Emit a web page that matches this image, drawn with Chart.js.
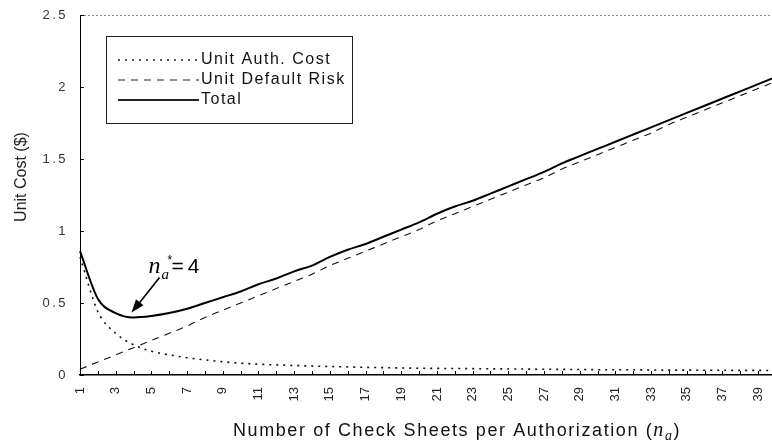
<!DOCTYPE html>
<html>
<head>
<meta charset="utf-8">
<script src="https://cdn.jsdelivr.net/npm/chart.js@4.4.1/dist/chart.umd.min.js"></script>
<style>
html, body { margin: 0; padding: 0; background: #fff; overflow: hidden; }
#wrap { width: 778px; height: 445px; }
</style>
</head>
<body>
<div id="wrap"><canvas id="costChart" width="778" height="445"></canvas></div>
<script>
// Number of check sheets per authorization (x categories)
const checkSheets = [1, 2, 3, 4, 5, 6, 7, 8, 9, 10, 11, 12, 13, 14, 15, 16, 17, 18, 19, 20,
                     21, 22, 23, 24, 25, 26, 27, 28, 29, 30, 31, 32, 33, 34, 35, 36, 37, 38, 39, 40];

// Unit costs ($)
const unitAuthCost = [0.82, 0.44, 0.29, 0.21, 0.165, 0.14, 0.12, 0.105, 0.092, 0.082,
                      0.075, 0.07, 0.066, 0.062, 0.059, 0.056, 0.053, 0.051, 0.049, 0.047,
                      0.046, 0.045, 0.044, 0.043, 0.042, 0.041, 0.04, 0.039, 0.038, 0.037,
                      0.036, 0.036, 0.035, 0.034, 0.034, 0.033, 0.033, 0.032, 0.032, 0.031];
const unitDefaultRisk = [0.04, 0.09, 0.14, 0.19, 0.24, 0.29, 0.34, 0.40, 0.45, 0.50,
                         0.55, 0.60, 0.65, 0.70, 0.76, 0.81, 0.86, 0.91, 0.96, 1.01,
                         1.07, 1.12, 1.17, 1.22, 1.27, 1.32, 1.37, 1.43, 1.48, 1.53,
                         1.58, 1.63, 1.68, 1.74, 1.79, 1.84, 1.89, 1.94, 1.99, 2.04];
const totalCost = [0.86, 0.53, 0.43, 0.40, 0.41, 0.43, 0.46, 0.50, 0.54, 0.58,
                   0.63, 0.67, 0.72, 0.76, 0.82, 0.87, 0.91, 0.96, 1.01, 1.06,
                   1.12, 1.17, 1.21, 1.26, 1.31, 1.36, 1.41, 1.47, 1.52, 1.57,
                   1.62, 1.67, 1.72, 1.77, 1.82, 1.87, 1.92, 1.97, 2.02, 2.07];

const yTicks = [0, 0.5, 1, 1.5, 2, 2.5];
const legendLabels = ['Unit Auth. Cost', 'Unit Default Risk', 'Total'];
const optimumIndex = 3; // n_a* = 4

const AUTH_DASH = [2, 5];
const RISK_DASH = [7, 6];

function strokeLine(ctx, x1, y1, x2, y2) {
    ctx.beginPath();
    ctx.moveTo(x1, y1);
    ctx.lineTo(x2, y2);
    ctx.stroke();
}

// Draws frame details, legend, annotation and axis titles
const decorPlugin = {
    id: 'decor',
    beforeDraw(chart) {
        // y tick labels (z 0) are spaced out like the scan
        chart.ctx.letterSpacing = '2.5px';
    },
    beforeDatasetsDraw(chart) {
        chart.ctx.letterSpacing = '0px';
    },
    afterDraw(chart) {
        const ctx = chart.ctx;
        const area = chart.chartArea;
        const xs = chart.scales.x;
        const ys = chart.scales.y;
        ctx.save();
        ctx.letterSpacing = '0px';

        // dotted top frame
        ctx.strokeStyle = '#888';
        ctx.lineWidth = 1;
        ctx.setLineDash([2, 2]);
        strokeLine(ctx, area.left, area.top + 0.5, area.right, area.top + 0.5);
        ctx.setLineDash([]);

        // inward tick marks
        ctx.strokeStyle = '#000';
        ctx.lineWidth = 1;
        xs.ticks.forEach((t, i) => {
            const px = Math.round(xs.getPixelForTick(i)) + 0.5;
            strokeLine(ctx, px, area.bottom, px, area.bottom - 4);
        });
        yTicks.forEach(v => {
            const py = Math.round(ys.getPixelForValue(v)) + 0.5;
            strokeLine(ctx, area.left, py, area.left + 4, py);
        });

        // legend box
        const lx = area.left + 26, ly = area.top + 21, lw = 246, lh = 87;
        ctx.strokeStyle = '#222';
        ctx.lineWidth = 1;
        ctx.strokeRect(lx + 0.5, ly + 0.5, lw, lh);
        const styles = [
            { dash: AUTH_DASH, width: 1.6 },
            { dash: RISK_DASH, width: 1.1 },
            { dash: [], width: 1.8 }
        ];
        ctx.font = '16px "Liberation Sans", Arial, sans-serif';
        ctx.fillStyle = '#111';
        ctx.textBaseline = 'middle';
        ctx.textAlign = 'left';
        ctx.letterSpacing = '1.5px';
        legendLabels.forEach((label, i) => {
            const ry = ly + 24 + i * 20;
            ctx.setLineDash(styles[i].dash);
            ctx.lineWidth = styles[i].width;
            strokeLine(ctx, lx + 12, ry, lx + 93, ry);
            ctx.setLineDash([]);
            ctx.fillText(label, lx + 95, ry);
        });
        ctx.letterSpacing = '0px';

        // optimum annotation
        const px = xs.getPixelForValue(optimumIndex);
        const py = ys.getPixelForValue(totalCost[optimumIndex]);
        const tipX = px - 2, tipY = py - 5;
        const startX = px + 26, startY = py - 40;
        ctx.strokeStyle = '#000';
        ctx.lineWidth = 1.6;
        strokeLine(ctx, startX, startY, tipX + 5, tipY - 6);
        const ang = Math.atan2(tipY - startY, tipX - startX);
        ctx.fillStyle = '#000';
        ctx.beginPath();
        ctx.moveTo(tipX, tipY);
        ctx.lineTo(tipX - 14 * Math.cos(ang - 0.35), tipY - 14 * Math.sin(ang - 0.35));
        ctx.lineTo(tipX - 14 * Math.cos(ang + 0.35), tipY - 14 * Math.sin(ang + 0.35));
        ctx.closePath();
        ctx.fill();

        ctx.textBaseline = 'alphabetic';
        ctx.font = 'italic 24px "Liberation Serif", "Times New Roman", serif';
        ctx.fillText('n', px + 15, py - 44);
        ctx.font = 'italic 15px "Liberation Serif", "Times New Roman", serif';
        ctx.fillText('a', px + 28, py - 38);
        ctx.font = '12px "Liberation Sans", Arial, sans-serif';
        ctx.fillText('*', px + 34, py - 53);
        ctx.font = '21px "Liberation Sans", Arial, sans-serif';
        ctx.letterSpacing = '4px';
        ctx.fillText('=4', px + 38, py - 44);
        ctx.letterSpacing = '0px';

        // y axis title
        ctx.save();
        ctx.translate(22, (area.top + area.bottom) / 2 - 18);
        ctx.rotate(-Math.PI / 2);
        ctx.font = '16px "Liberation Sans", Arial, sans-serif';
        ctx.fillStyle = '#222';
        ctx.textAlign = 'center';
        ctx.textBaseline = 'middle';
        ctx.fillText('Unit Cost ($)', 0, 0);
        ctx.restore();

        // x axis title with italic n_a
        const parts = [
            { text: 'Number of Check Sheets per Authorization (', font: '18px "Liberation Sans", Arial, sans-serif', dy: 0 },
            { text: 'n', font: 'italic 20px "Liberation Serif", "Times New Roman", serif', dy: 0 },
            { text: 'a', font: 'italic 14px "Liberation Serif", "Times New Roman", serif', dy: 4 },
            { text: ')', font: '18px "Liberation Sans", Arial, sans-serif', dy: 0 }
        ];
        ctx.letterSpacing = '1.6px';
        let total = 0;
        parts.forEach(p => { ctx.font = p.font; p.w = ctx.measureText(p.text).width; total += p.w; });
        let cx = 457 - total / 2;
        ctx.fillStyle = '#111';
        ctx.textAlign = 'left';
        ctx.textBaseline = 'alphabetic';
        parts.forEach(p => {
            ctx.font = p.font;
            ctx.fillText(p.text, cx, 436 + p.dy);
            cx += p.w;
        });
        ctx.restore();
    }
};

new Chart(document.getElementById('costChart'), {
    type: 'line',
    data: {
        labels: checkSheets.map(String),
        datasets: [
            {
                label: legendLabels[0],
                data: unitAuthCost,
                borderColor: '#111',
                borderWidth: 1.6,
                borderDash: AUTH_DASH,
                pointRadius: 0,
                cubicInterpolationMode: 'monotone'
            },
            {
                label: legendLabels[1],
                data: unitDefaultRisk,
                borderColor: '#111',
                borderWidth: 1.1,
                borderDash: RISK_DASH,
                pointRadius: 0,
                cubicInterpolationMode: 'monotone'
            },
            {
                label: legendLabels[2],
                data: totalCost,
                borderColor: '#000',
                borderWidth: 2,
                pointRadius: 0,
                cubicInterpolationMode: 'monotone'
            }
        ]
    },
    options: {
        responsive: false,
        animation: false,
        devicePixelRatio: 1,
        layout: { padding: { top: 15, right: 2, left: 0, bottom: 0 } },
        plugins: {
            legend: { display: false },
            tooltip: { enabled: false }
        },
        scales: {
            x: {
                offset: false,
                grid: { display: false, drawTicks: false },
                border: { display: true, color: '#000', width: 1.5 },
                ticks: {
                    z: 1,
                    autoSkip: false,
                    minRotation: 90,
                    maxRotation: 90,
                    padding: 12,
                    color: '#222',
                    font: { family: '"Liberation Sans", Arial, sans-serif', size: 13 },
                    callback: function (v, i) {
                        return i % 2 === 0 ? this.getLabelForValue(v) : '';
                    }
                },
                afterFit: s => { s.height = 70; s.paddingLeft = 0; s.paddingRight = 0; }
            },
            y: {
                min: 0,
                max: 2.5,
                afterBuildTicks: s => { s.ticks = yTicks.map(v => ({ value: v })); },
                grid: { display: false, drawTicks: false },
                border: { display: true, color: '#000', width: 1 },
                ticks: {
                    z: 0,
                    padding: 12,
                    color: '#333',
                    font: { family: '"Liberation Sans", Arial, sans-serif', size: 13 },
                    callback: v => String(v)
                },
                afterFit: s => { s.width = 80; s.paddingTop = 0; s.paddingBottom = 0; }
            }
        }
    },
    plugins: [decorPlugin]
});
</script>
</body>
</html>
